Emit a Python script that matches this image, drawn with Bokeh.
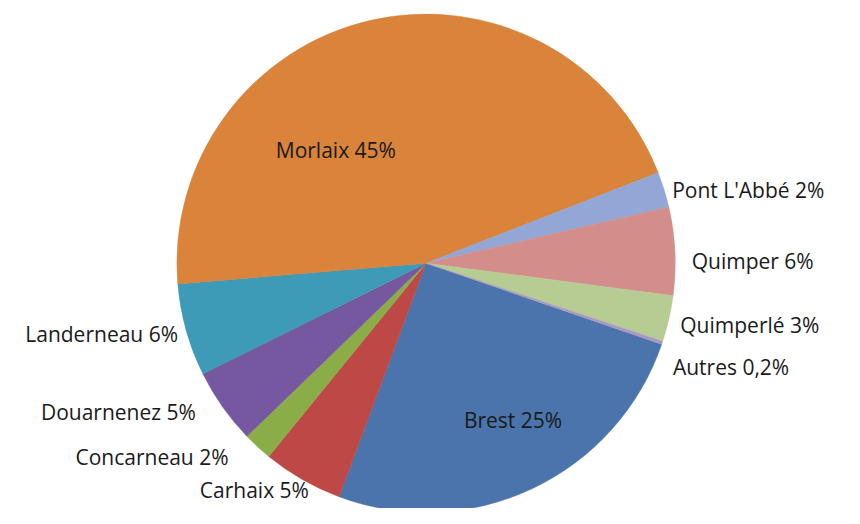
import math
from bokeh.plotting import figure
from bokeh.models import Range1d, ColumnDataSource
from bokeh.core.properties import value
from bokeh.embed import file_html
from bokeh.resources import INLINE

# ---- data (share of total, %), in the chart's series order ----
towns = ["Brest", "Carhaix", "Concarneau", "Douarnenez", "Landerneau",
         "Morlaix", "Pont L'Abbé", "Quimper", "Quimperlé", "Autres"]
shares = [25.4, 5.2, 1.9, 4.9, 6.0, 45.4, 2.3, 5.7, 3.0, 0.2]
shown_pct = ["25%", "5%", "2%", "5%", "6%", "45%", "2%", "6%", "3%", "0,2%"]

# ---- styles ----
colors = ["#4A74AB", "#BD4845", "#8AAD48", "#7658A0", "#3D9BB8",
          "#D9833B", "#92A7D5", "#D38E8C", "#B6CC93", "#A898C3"]
# label placement: (angle nudge in degrees, radius factor, alignment)
label_place = [(3.7, 0.72, "center"), (2.5, 1.025, "right"), (-3.0, 1.11, "right"),
               (-2.3, 1.10, "right"), (0.3, 1.035, "right"), (25.6, 0.58, "center"),
               (-0.7, 1.03, "left"), (-2.2, 1.066, "left"), (-0.8, 1.05, "left"),
               (-4.2, 1.075, "left")]

W, H = 844, 508
REF_W, REF_H = 860, 524
S = H / REF_H                 # uniform scale from reference pixels to figure
CX, CY = 434, REF_H - 271     # centre (y measured upward)
R = 257
START = -19.0                 # first slice starts here and runs clockwise

total = sum(shares)
ends, starts, mids = [], [], []
a = START
for s in shares:
    w = 360.0 * s / total
    starts.append(a - w)
    ends.append(a)
    mids.append(a - w / 2)
    a -= w

src = ColumnDataSource(dict(
    start=[math.radians(v) for v in starts],
    end=[math.radians(v) for v in ends],
    color=colors,
))

x0 = -5
p = figure(width=W, height=H, output_backend="svg", toolbar_location=None,
           x_range=Range1d(x0, x0 + W / S), y_range=Range1d(0, REF_H),
           min_border=0, outline_line_color=None)
p.axis.visible = False
p.grid.visible = False
p.background_fill_color = "white"

p.wedge(x=CX, y=CY, radius=R, start_angle="start", end_angle="end",
        color="color", line_color="color", line_width=0.5, source=src)

for i, t in enumerate(towns):
    nudge, k, align = label_place[i]
    ang = math.radians(mids[i] + nudge)
    lx = CX + R * k * math.cos(ang)
    ly = CY + R * k * math.sin(ang)
    p.text(x=[lx], y=[ly], text=[f"{t} {shown_pct[i]}"],
           text_font=value("Open Sans"), text_font_size="21px",
           text_color="#1a1a1a", text_align=align, text_baseline="middle")

open("out.html", "w").write(file_html(p, INLINE))
